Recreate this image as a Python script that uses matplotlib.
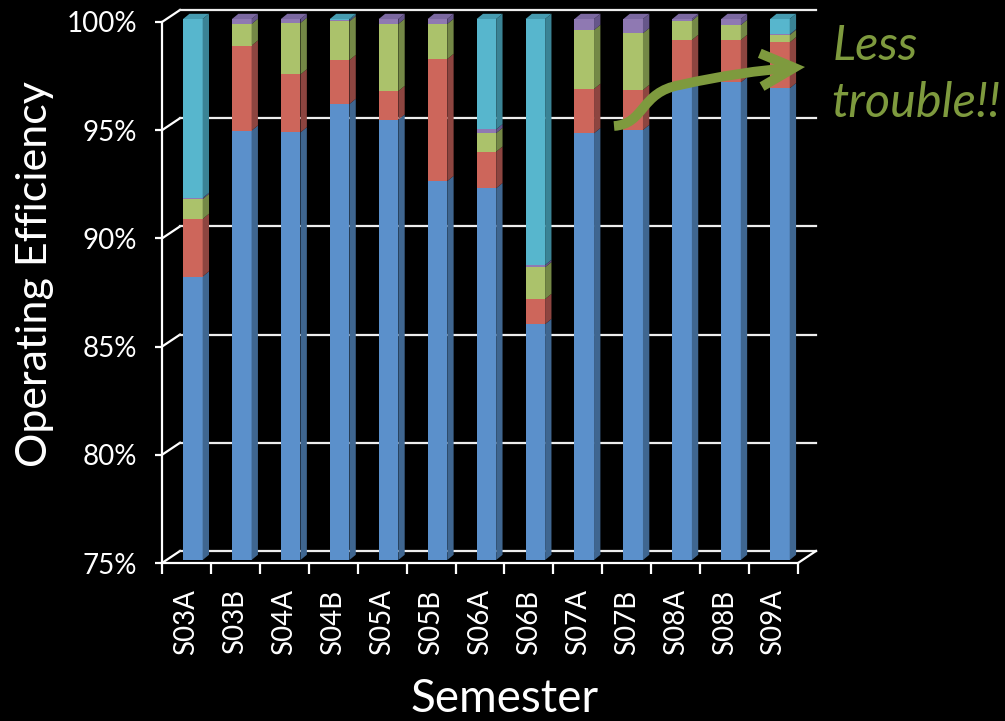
import matplotlib
matplotlib.use('Agg')
import matplotlib.pyplot as plt
import matplotlib.transforms as mtransforms
from matplotlib.patches import Polygon, FancyArrowPatch
from matplotlib.path import Path

# semester labels and stacked shares (percent of time)
semesters = ['S03A', 'S03B', 'S04A', 'S04B', 'S05A', 'S05B', 'S06A',
             'S06B', 'S07A', 'S07B', 'S08A', 'S08B', 'S09A']
blue = [88.1, 94.84, 94.76, 96.07, 95.35, 92.51, 92.18, 85.9, 94.72, 94.87, 96.87, 97.07, 96.8]
red = [2.66, 3.93, 2.68, 2.03, 1.32, 5.64, 1.69, 1.16, 2.05, 1.85, 2.16, 1.96, 2.12]
green = [0.92, 1.0, 2.38, 1.79, 3.1, 1.62, 0.86, 1.47, 2.72, 2.62, 0.89, 0.69, 0.34]
purple = [0.05, 0.23, 0.18, 0.05, 0.23, 0.23, 0.17, 0.1, 0.51, 0.66, 0.08, 0.28, 0.03]
cyan = [8.27, 0, 0, 0.06, 0, 0, 5.1, 11.37, 0, 0, 0, 0, 0.71]
yticks = [75, 80, 85, 90, 95, 100]

# (front colour, side colour, top colour)
shades = [('#5B90CB', '#3F6690', '#4C7AAE'),
          ('#CD665B', '#8D4540', '#B05850'),
          ('#ABC26B', '#748846', '#93A95B'),
          ('#8F79B2', '#66568A', '#7B68A0'),
          ('#57B6CD', '#3A8395', '#469BB0')]

FONT = ['Lato', 'DejaVu Sans']
plt.rcParams['font.family'] = FONT

fig = plt.figure(figsize=(10.05, 7.21), dpi=100, facecolor='black')
ax = fig.add_axes([162 / 1005, 1 - 563 / 721, 636 / 1005, 541 / 721])
ax.set_facecolor('black')
ax.set_xlim(-0.5, 12.5)
ax.set_ylim(75, 100)

# pixel helper for annotations (image pixel coords, y downwards)
pix = mtransforms.Affine2D().scale(1 / 1005, -1 / 721).translate(0, 1) + fig.transFigure

# 3D-ish wall offset
wdx, wdy = 0.368, 0.555
n = len(semesters)
for v in yticks:
    ax.plot([-0.5, -0.5 + wdx], [v, v + wdy], color='white', lw=1.6, clip_on=False, zorder=1)
    ax.plot([-0.5 + wdx, n - 0.5 + wdx], [v + wdy, v + wdy], color='#EDEDED', lw=1.6,
            clip_on=False, zorder=1)
ax.plot([-0.5, -0.5], [75, 100], color='white', lw=1.6, clip_on=False, zorder=1)
ax.plot([-0.5, n - 0.5], [75, 75], color='white', lw=1.6, clip_on=False, zorder=1)
ax.plot([n - 0.5, n - 0.5 + wdx], [75, 75 + wdy], color='white', lw=1.6, clip_on=False, zorder=1)

# bars
shift = mtransforms.ScaledTranslation(0.064, 0.03, fig.dpi_scale_trans)
btrans = ax.transData + shift
bw, sdx, sdy = 0.4, 0.13, 0.24
series = [blue, red, green, purple, cyan]
for i in range(n):
    bottom = 75.0
    top_color = None
    for k, vals in enumerate(series):
        h = vals[i] - (75.0 if k == 0 else 0)
        if h <= 0:
            continue
        front, side, topc = shades[k]
        x0, x1 = i - bw / 2, i + bw / 2
        ax.add_patch(Polygon([(x0, bottom), (x1, bottom), (x1, bottom + h), (x0, bottom + h)],
                             closed=True, facecolor=front, edgecolor='none',
                             transform=btrans, clip_on=False, zorder=3))
        ax.add_patch(Polygon([(x1, bottom), (x1 + sdx, bottom + sdy),
                              (x1 + sdx, bottom + h + sdy), (x1, bottom + h)],
                             closed=True, facecolor=side, edgecolor='none',
                             transform=btrans, clip_on=False, zorder=3))
        bottom += h
        top_color = topc
    x0, x1 = i - bw / 2, i + bw / 2
    ax.add_patch(Polygon([(x0, bottom), (x0 + sdx, bottom + sdy),
                          (x1 + sdx, bottom + sdy), (x1, bottom)],
                         closed=True, facecolor=top_color, edgecolor='none',
                         transform=btrans, clip_on=False, zorder=3))

for s in ax.spines.values():
    s.set_visible(False)

ax.set_yticks(yticks)
ax.set_yticklabels(['%d%%' % v for v in yticks], fontsize=20, color='white')
ax.tick_params(axis='y', colors='white', length=5, width=1.6, pad=13, labelcolor='white')
ax.set_xticks(range(n))
ax.set_xticklabels(semesters, rotation=90, fontsize=20, color='white')
ax.set_xticks([i - 0.5 for i in range(n + 1)], minor=True)
ax.tick_params(axis='x', which='major', length=0, pad=19, labelcolor='white')
ax.tick_params(axis='x', which='minor', length=8, width=1.6, colors='white')

ax.set_ylabel('Operating Efficiency', fontsize=31, color='white')
ax.yaxis.set_label_coords(-0.17, 0.535)
ax.set_xlabel('Semester', fontsize=33, color='white')
ax.xaxis.set_label_coords(0.539, -0.212)

# annotation arrow and text
olive = '#7E9A3E'
verts = [(614, 126), (645, 124), (640, 92), (680, 85),
         (720, 76), (760, 70), (805, 67)]
codes = [Path.MOVETO, Path.CURVE4, Path.CURVE4, Path.CURVE4,
         Path.CURVE4, Path.CURVE4, Path.CURVE4]
arrow = FancyArrowPatch(path=Path(verts, codes), transform=pix,
                        arrowstyle='->,head_length=1.2,head_width=0.6',
                        mutation_scale=20, lw=7, color=olive, zorder=6,
                        capstyle='butt', joinstyle='miter')
fig.add_artist(arrow)
fig.text(833, 46, 'Less', transform=pix, fontsize=35, style='italic', color=olive,
         ha='left', va='center')
fig.text(831, 103, 'trouble!!', transform=pix, fontsize=35, style='italic', color=olive,
         ha='left', va='center')

fig.savefig('out.png', dpi=100, facecolor='black')
